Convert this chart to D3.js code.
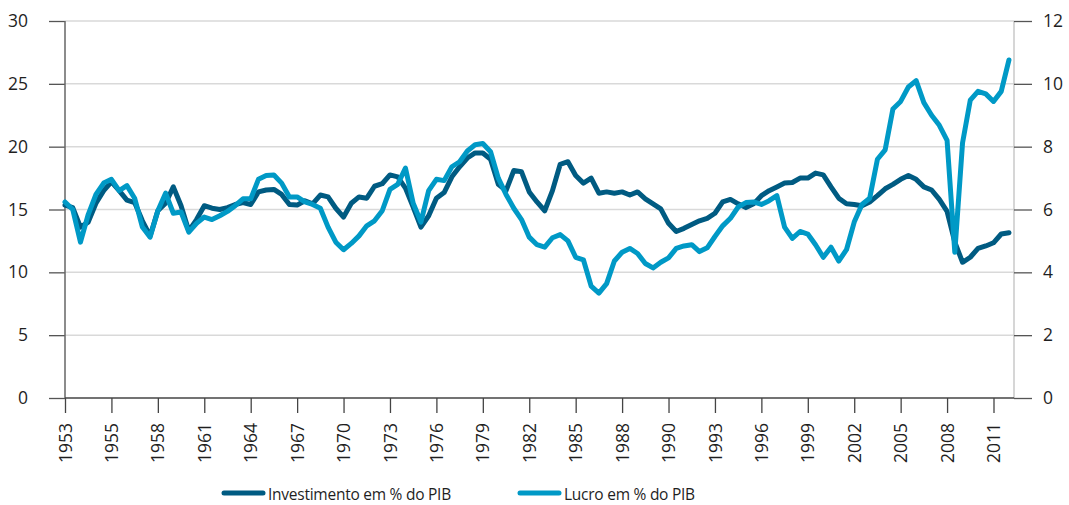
<!DOCTYPE html>
<html><head><meta charset="utf-8">
<script src="https://cdn.jsdelivr.net/npm/d3@7"></script>
<style>
body{margin:0;background:#fff}
svg{display:block}
text{font-family:"Open Sans",sans-serif;fill:#1f1f1f}
</style>
</head><body>
<svg id="chart" width="1069" height="505"></svg>
<script>
// Half-yearly observations, starting 1953
const tickLabels = ["1953","1955","1958","1961","1964","1967","1970","1973","1976","1979","1982","1985","1988","1990","1993","1996","1999","2002","2005","2008","2011"];
const leftTicks = [0,5,10,15,20,25,30];
const rightTicks = [0,2,4,6,8,10,12];
const seriesNames = ["Investimento em % do PIB","Lucro em % do PIB"];
// Investimento em % do PIB (left axis)
const investimento = [
15.35,15.15,13.6,14.0,15.5,16.5,17.2,16.5,15.75,15.55,
14.1,12.9,14.9,15.5,16.8,15.3,13.3,14.2,15.3,15.1,
15.0,15.15,15.4,15.55,15.4,16.4,16.55,16.6,16.2,15.4,
15.35,15.7,15.45,16.15,16.0,15.1,14.4,15.5,16.0,15.9,
16.85,17.05,17.75,17.6,16.7,15.2,13.6,14.5,15.9,16.35,
17.6,18.4,19.1,19.5,19.5,19.0,17.0,16.5,18.1,18.0,
16.4,15.6,14.9,16.5,18.6,18.8,17.7,17.1,17.5,16.3,
16.4,16.3,16.4,16.15,16.4,15.85,15.45,15.05,13.9,13.25,
13.5,13.8,14.1,14.3,14.7,15.6,15.8,15.45,15.15,15.45,
16.1,16.5,16.8,17.1,17.15,17.5,17.5,17.9,17.75,16.8,
15.9,15.45,15.4,15.3,15.6,16.1,16.65,17.0,17.4,17.7,
17.4,16.8,16.55,15.8,14.85,12.4,10.8,11.2,11.9,12.1,
12.35,13.05,13.15];
// Lucro em % do PIB (right axis)
const lucro = [
6.24,6.0,4.96,5.84,6.48,6.84,6.96,6.6,6.76,6.36,
5.44,5.12,5.96,6.52,5.88,5.92,5.28,5.56,5.76,5.68,
5.8,5.94,6.12,6.34,6.34,6.96,7.08,7.1,6.84,6.4,
6.4,6.24,6.16,6.04,5.44,4.96,4.72,4.92,5.16,5.48,
5.64,5.96,6.64,6.8,7.32,6.2,5.6,6.6,6.96,6.92,
7.36,7.52,7.86,8.06,8.1,7.84,7.0,6.48,6.04,5.68,
5.12,4.88,4.8,5.1,5.2,5.0,4.48,4.4,3.56,3.34,
3.64,4.36,4.64,4.76,4.6,4.28,4.14,4.32,4.46,4.76,
4.84,4.88,4.66,4.78,5.14,5.48,5.72,6.08,6.22,6.24,
6.16,6.28,6.44,5.44,5.08,5.3,5.22,4.88,4.48,4.8,
4.36,4.72,5.6,6.16,6.36,7.6,7.9,9.2,9.44,9.9,
10.1,9.4,9.0,8.68,8.2,4.64,8.12,9.48,9.76,9.68,
9.44,9.76,10.76];

const colors = ["#005b82","#0099c6"];
const svg = d3.select("#chart");
const L = 65, R = 1014, T = 21, B = 398;

const x = d3.scaleLinear().domain([0, 122.65]).range([L, R]);
const yL = d3.scaleLinear().domain([0, 30]).range([B, T]);
const yR = d3.scaleLinear().domain([0, 12]).range([B, T]);

// gridlines
svg.append("g").selectAll("line").data(leftTicks.filter(d => d > 0)).join("line")
  .attr("x1", L).attr("x2", R).attr("y1", d => yL(d)).attr("y2", d => yL(d))
  .attr("stroke", "#d9d9d9").attr("stroke-width", 1.5);

// right axis line (light)
svg.append("line").attr("x1", R).attr("x2", R).attr("y1", T).attr("y2", B)
  .attr("stroke", "#c8c8c8").attr("stroke-width", 1.5);

// left axis
const gl = svg.append("g").attr("transform", `translate(${L},0)`)
  .call(d3.axisLeft(yL).tickValues(leftTicks).tickSize(16).tickPadding(21));
gl.select(".domain").remove();
gl.selectAll(".tick line").attr("stroke", "#555").attr("stroke-width", 1.3);
gl.selectAll("text").style("font-size", "17.5px").attr("fill", "#1f1f1f");
svg.append("line").attr("x1", L).attr("x2", L).attr("y1", T).attr("y2", B)
  .attr("stroke", "#666").attr("stroke-width", 1.5);

// right axis
const gr = svg.append("g").attr("transform", `translate(${R},0)`)
  .call(d3.axisRight(yR).tickValues(rightTicks).tickSize(18).tickPadding(11));
gr.select(".domain").remove();
gr.selectAll(".tick line").attr("stroke", "#555").attr("stroke-width", 1.3);
gr.selectAll("text").style("font-size", "17.5px").attr("fill", "#1f1f1f");

// bottom axis
const xTicks = tickLabels.map((d, i) => i * 6);
const gb = svg.append("g").attr("transform", `translate(0,${B})`)
  .call(d3.axisBottom(x).tickValues(xTicks).tickSize(15).tickFormat((d, i) => tickLabels[i]));
gb.select(".domain").remove();
gb.selectAll(".tick line").attr("stroke", "#444").attr("stroke-width", 1.3);
gb.selectAll("text")
  .style("font-size", "17.5px").attr("fill", "#1f1f1f")
  .attr("transform", "rotate(-90)")
  .attr("text-anchor", "end")
  .attr("x", -25).attr("y", 0).attr("dy", "0.35em");
svg.append("line").attr("x1", L).attr("x2", R).attr("y1", B).attr("y2", B)
  .attr("stroke", "#444").attr("stroke-width", 1.5);

// lines
const lineL = d3.line().x((d, i) => x(i)).y(d => yL(d));
const lineR = d3.line().x((d, i) => x(i)).y(d => yR(d));
svg.append("path").datum(investimento).attr("d", lineL)
  .attr("fill", "none").attr("stroke", colors[0]).attr("stroke-width", 5)
  .attr("stroke-linejoin", "round").attr("stroke-linecap", "round");
svg.append("path").datum(lucro).attr("d", lineR)
  .attr("fill", "none").attr("stroke", colors[1]).attr("stroke-width", 5)
  .attr("stroke-linejoin", "round").attr("stroke-linecap", "round");

// legend
const legendX = [224, 520];
const lg = svg.append("g");
seriesNames.forEach((name, i) => {
  lg.append("line").attr("x1", legendX[i]).attr("x2", legendX[i] + 39)
    .attr("y1", 493).attr("y2", 493)
    .attr("stroke", colors[i]).attr("stroke-width", 5).attr("stroke-linecap", "round");
  lg.append("text").attr("x", legendX[i] + 44).attr("y", 499.5)
    .style("font-size", "15.5px").style("letter-spacing", "-0.25px")
    .attr("fill", "#1f1f1f").text(name);
});
</script>
</body></html>
